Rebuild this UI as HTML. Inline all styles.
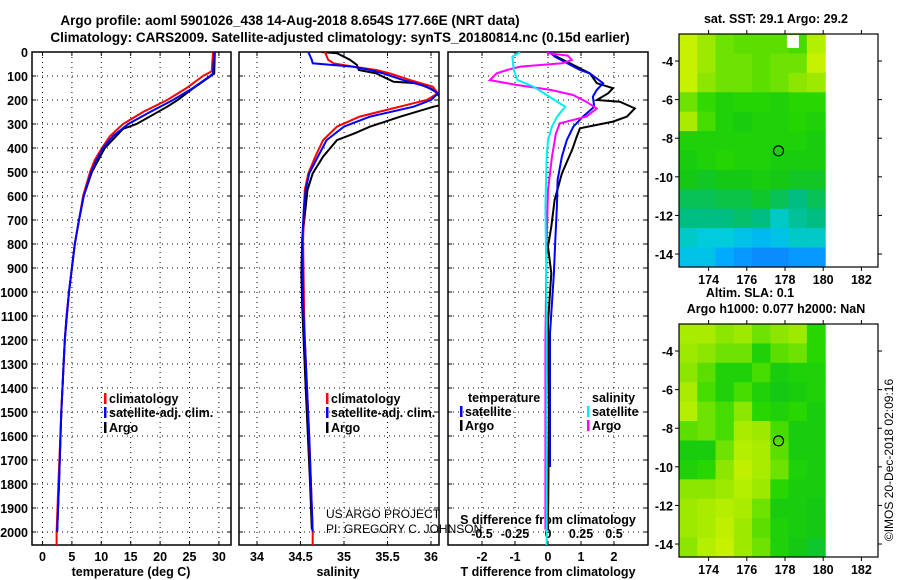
<!DOCTYPE html>
<html><head><meta charset="utf-8">
<style>
html,body{margin:0;padding:0;background:#fff;}
svg{display:block;font-family:"Liberation Sans",sans-serif;}
.b{font-weight:bold;}
</style></head>
<body>
<svg id="fig" width="900" height="580" viewBox="0 0 900 580" xmlns="http://www.w3.org/2000/svg">
<text x="290" y="25" text-anchor="middle" class="b" font-size="13.5">Argo profile: aoml 5901026_438 14-Aug-2018 8.654S 177.66E (NRT data)</text>
<text x="340" y="42" text-anchor="middle" class="b" font-size="13.5">Climatology: CARS2009. Satellite-adjusted climatology: synTS_20180814.nc (0.15d earlier)</text>
<g id="panels"></g>
<g id="maps"></g>
<text transform="translate(893,460) rotate(-90)" text-anchor="middle" font-size="12">©IMOS 20-Dec-2018 02:09:16</text>
</svg>
<script>
// ---------- data ----------
const depthTicks=[0,100,200,300,400,500,600,700,800,900,1000,1100,1200,1300,1400,1500,1600,1700,1800,1900,2000];
const tempTicks=[0,5,10,15,20,25,30];
const salTicks=[34,34.5,35,35.5,36];
const salTickLabels=["34","34.5","35","35.5","36"];
const dTTicks=[-2,-1,0,1,2];
const dSTicks=[-0.5,-0.25,0,0.25,0.5];
const dSTickLabels=["-0.5","-0.25","0","0.25","0.5"];

const tClimDepth=[0,80,100,150,200,250,300,350,400,450,500,600,700,800,900,1000,1100,1200,1500,1800,2000,2054];
const tClimVal=[29.0,28.8,27.3,24.5,21.2,17.1,13.7,11.5,10.1,8.9,8.1,6.9,6.2,5.5,5.0,4.5,4.1,3.8,3.2,2.7,2.4,2.4];
const tSatDepth=[0,90,100,150,200,250,300,350,400,450,500,600,700,800,900,1000,1100,1200,1500,1800,2000];
const tSatVal=[29.2,29.0,28.5,25.6,22.2,18.3,14.6,12.0,10.3,9.2,8.3,7.0,6.2,5.5,5.0,4.5,4.1,3.8,3.2,2.8,2.5];
const tArgoDepth=[0,90,100,150,200,228,300,320,400,500,600,700,800,900,1000,1200,1500,1800,1990];
const tArgoVal=[29.3,29.2,28.6,25.7,23.0,21.2,16.0,13.7,10.6,8.4,7.0,6.2,5.5,5.0,4.5,3.8,3.2,2.8,2.5];

const sClimDepth=[0,33,47,61,75,89,117,144,172,200,228,269,311,367,436,506,575,644,783,1061,1200,1600,2000,2054];
const sClimVal=[34.78,34.82,34.88,35.1,35.37,35.53,35.76,36.02,36.08,35.95,35.64,35.18,34.92,34.76,34.67,34.59,34.55,34.54,34.53,34.54,34.55,34.6,34.64,34.64];
const sSatDepth=[0,33,47,54,61,75,89,117,144,172,200,228,269,311,367,436,506,575,644,783,1061,1200,1600,2000];
const sSatVal=[34.59,34.63,34.64,34.87,35.1,35.3,35.45,35.68,35.95,36.08,36.0,35.8,35.3,35.0,34.8,34.7,34.6,34.56,34.54,34.52,34.53,34.55,34.6,34.64];
const sArgoDepth=[0,5,33,54,75,89,124,130,158,186,214,228,269,311,339,367,436,506,575,644,783,922,1061,1400,1800,1990];
const sArgoVal=[34.74,34.92,35.07,35.15,35.17,35.37,35.57,35.84,36.03,36.1,36.2,36.03,35.65,35.3,35.12,34.92,34.76,34.64,34.58,34.56,34.52,34.51,34.52,34.56,34.61,34.63];

const dTSatDepth=[0,19,75,89,130,158,186,228,269,311,367,436,533,644,783,922,1172,1500,1729];
const dTSatVal=[0.06,0.2,0.97,1.27,1.67,1.48,1.36,1.4,1.06,0.77,0.57,0.42,0.29,0.27,0.22,0.18,0.06,0.06,0.06];
const dTArgoDepth=[0,15,75,89,130,151,172,200,207,235,269,290,318,353,408,506,617,728,811,922,1130,1500,1990];
const dTArgoVal=[0.0,0.2,1.07,1.27,1.48,1.97,1.82,1.48,2.18,2.63,2.39,1.97,0.97,0.87,0.73,0.42,0.2,0.1,0.0,0.1,0.0,0.03,0.0];
const dSSatDepth=[0,19,75,117,144,186,228,269,311,367,436,644,1061,1500,2054];
const dSSatVal=[-0.21,-0.27,-0.26,-0.23,-0.11,0.01,0.13,0.07,0.03,0.0,-0.01,-0.02,-0.01,-0.01,-0.01];
const dSArgoDepth=[0,5,15,33,47,61,75,89,117,137,158,179,207,235,269,297,339,436,575,783,1200,1600,1990];
const dSArgoVal=[0.0,0.0,0.15,0.18,0.11,-0.21,-0.31,-0.39,-0.44,-0.24,0.02,0.19,0.29,0.37,0.29,0.09,0.06,0.03,0.0,-0.01,-0.02,-0.02,-0.02];

const lonTicks=[174,176,178,180,182];
const latTicks=[-4,-6,-8,-10,-12,-14];
const sstGrid=[
[0.85,0.78,0.72,0.70,0.70,0.70,0.68,0.82],
[0.85,0.78,0.72,0.72,0.70,0.72,0.72,0.85],
[0.85,0.75,0.72,0.72,0.70,0.72,0.75,0.78],
[0.72,0.66,0.62,0.64,0.64,0.62,0.65,0.65],
[0.80,0.68,0.62,0.60,0.62,0.62,0.64,0.62],
[0.62,0.62,0.62,0.62,0.62,0.62,0.62,0.60],
[0.60,0.62,0.64,0.62,0.62,0.60,0.60,0.60],
[0.58,0.56,0.58,0.58,0.60,0.58,0.56,0.56],
[0.50,0.50,0.52,0.52,0.55,0.50,0.45,0.50],
[0.45,0.45,0.45,0.48,0.45,0.35,0.42,0.45],
[0.35,0.32,0.32,0.30,0.28,0.30,0.35,0.35],
[0.30,0.30,0.25,0.22,0.20,0.20,0.22,0.22]];
const slaGrid=[
[0.80,0.80,0.75,0.78,0.72,0.75,0.78,0.65],
[0.78,0.75,0.72,0.72,0.62,0.70,0.72,0.65],
[0.75,0.70,0.62,0.62,0.68,0.60,0.62,0.62],
[0.80,0.68,0.62,0.68,0.62,0.58,0.60,0.62],
[0.82,0.72,0.68,0.75,0.65,0.62,0.65,0.60],
[0.70,0.72,0.68,0.80,0.78,0.68,0.60,0.60],
[0.60,0.60,0.72,0.82,0.80,0.70,0.60,0.60],
[0.62,0.65,0.75,0.84,0.80,0.72,0.62,0.60],
[0.75,0.75,0.78,0.82,0.78,0.65,0.60,0.60],
[0.78,0.80,0.82,0.80,0.72,0.60,0.60,0.58],
[0.78,0.80,0.84,0.78,0.70,0.62,0.60,0.58],
[0.75,0.82,0.85,0.78,0.72,0.62,0.58,0.55]];
const argoLon=177.66, argoLat=-8.654;

// ---------- helpers ----------
const NS="http://www.w3.org/2000/svg";
function mk(tag,attrs,parent,txt){const e=document.createElementNS(NS,tag);for(const k in attrs)e.setAttribute(k,attrs[k]);if(txt!==undefined)e.textContent=txt;parent.appendChild(e);return e;}
const TOP=52,BOT=545;
const yD=d=>TOP+d*0.24;
const xT=v=>42.5+v*5.88;
const xS=v=>257+(v-34)*87;
const xDT=v=>548+v*33;
const xDS=v=>548+v*132;
const panels=document.getElementById('panels');

function frame(x0,x1,name,xticks,xf){
  const g=mk('g',{},panels);
  
  
  depthTicks.forEach(d=>{ if(d>0){const l=mk('line',{x1:x0,x2:x1,y1:yD(d),y2:yD(d),stroke:'#000','stroke-width':1,'stroke-dasharray':'1,4'},g);
    
    }
    mk('line',{x1:x0,x2:x0+4,y1:yD(d),y2:yD(d),stroke:'#000'},g);
    mk('line',{x1:x1-4,x2:x1,y1:yD(d),y2:yD(d),stroke:'#000'},g);});
  xticks.forEach(v=>{const x=xf(v);const l=mk('line',{x1:x,x2:x,y1:TOP,y2:BOT,stroke:'#000','stroke-width':1,'stroke-dasharray':'1,4'},g);
    
    
    mk('line',{x1:x,x2:x,y1:TOP,y2:TOP+4,stroke:'#000'},g);mk('line',{x1:x,x2:x,y1:BOT-4,y2:BOT,stroke:'#000'},g);});
  mk('rect',{x:x0,y:TOP,width:x1-x0,height:BOT-TOP,fill:'none',stroke:'#000','stroke-width':1.5},g);
  return g;
}
function series(g,dep,val,xf,color,name,clip){
  const pts=dep.map((d,i)=>xf(val[i]).toFixed(1)+','+yD(d).toFixed(1)).join(' ');
  const p=mk('polyline',{points:pts,fill:'none',stroke:color,'stroke-width':2,'clip-path':'url(#'+clip+')'},g);
  
  
}
function clip(id,x0,x1){const defs=mk('defs',{},panels);const c=mk('clipPath',{id:id},defs);mk('rect',{x:x0,y:TOP,width:x1-x0,height:BOT-TOP},c);}
function label(g,x,y,t,anchor,size,name){const e=mk('text',{x:x,y:y,'text-anchor':anchor,'font-size':size,'font-weight':'bold'},g,t);
  
  return e;}
function legend(g,x,y,color,t,name){const e=mk('g',{},g);
  
  
  mk('rect',{x:x,y:y-10,width:2.5,height:11,fill:color},e);
  mk('text',{x:x+5,y:y,'font-size':12.5,'font-weight':'bold'},e,t);}

// panel 1
clip('c1',32,231);clip('c2',239,439);clip('c3',448,648);
const g1=frame(32,231,'temperature-panel',tempTicks,xT);
depthTicks.forEach(d=>label(g1,28,yD(d)+5,String(d),'end',12.5,'depth-tick-label'));
tempTicks.forEach(v=>label(g1,xT(v),561,String(v),'middle',12.5,'temperature-tick-label'));
label(g1,131,576,'temperature (deg C)','middle',12.5,'temperature-axis-title');
series(g1,tArgoDepth,tArgoVal,xT,'#000','temp-argo-line','c1');
series(g1,tClimDepth,tClimVal,xT,'#f00','temp-climatology-line','c1');
series(g1,tSatDepth,tSatVal,xT,'#00f','temp-satellite-line','c1');
legend(g1,104,403,'#f00','climatology','legend-climatology');
legend(g1,104,417,'#00f','satellite-adj. clim.','legend-satellite');
legend(g1,104,432,'#000','Argo','legend-argo');

// panel 2
const g2=frame(239,439,'salinity-panel',salTicks,xS);
salTicks.forEach((v,i)=>label(g2,xS(v),561,salTickLabels[i],'middle',12.5,'salinity-tick-label'));
label(g2,338,576,'salinity','middle',12.5,'salinity-axis-title');
series(g2,sArgoDepth,sArgoVal,xS,'#000','sal-argo-line','c2');
series(g2,sClimDepth,sClimVal,xS,'#f00','sal-climatology-line','c2');
series(g2,sSatDepth,sSatVal,xS,'#00f','sal-satellite-line','c2');
legend(g2,326,403,'#f00','climatology','legend-climatology');
legend(g2,326,417,'#00f','satellite-adj. clim.','legend-satellite');
legend(g2,326,432,'#000','Argo','legend-argo');
const pr=mk('text',{x:326,y:518,'font-size':12},g2,'US ARGO PROJECT');


const pi=mk('text',{x:326,y:533,'font-size':12},g2,'PI: GREGORY C. JOHNSON');



// panel 3
const g3=frame(448,648,'difference-panel',dTTicks,xDT);
dTTicks.forEach(v=>label(g3,xDT(v),561,String(v),'middle',12.5,'t-diff-tick-label'));
dSTicks.forEach((v,i)=>label(g3,xDS(v),538,dSTickLabels[i],'middle',12.5,'s-diff-tick-label'));
label(g3,548,524,'S difference from climatology','middle',12.5,'s-diff-axis-title');
label(g3,548,576,'T difference from climatology','middle',12.5,'t-diff-axis-title');
series(g3,dTArgoDepth,dTArgoVal,xDT,'#000','t-diff-argo-line','c3');
series(g3,dTSatDepth,dTSatVal,xDT,'#00f','t-diff-satellite-line','c3');
series(g3,dSArgoDepth,dSArgoVal,xDS,'#f0f','s-diff-argo-line','c3');
series(g3,dSSatDepth,dSSatVal,xDS,'#0ee','s-diff-satellite-line','c3');
label(g3,468,402,'temperature','start',12.5,'legend-temperature-header');
legend(g3,460,416,'#00f','satellite','legend-t-satellite');
legend(g3,460,430,'#000','Argo','legend-t-argo');
label(g3,592,402,'salinity','start',12.5,'legend-salinity-header');
legend(g3,587,416,'#0ee','satellite','legend-s-satellite');
legend(g3,587,430,'#f0f','Argo','legend-s-argo');

// maps
const maps=document.getElementById('maps');
const stops=[[0.15,[20,110,255]],[0.25,[0,170,255]],[0.32,[0,204,220]],[0.45,[0,190,130]],[0.58,[20,200,20]],[0.65,[40,215,0]],[0.75,[140,230,0]],[0.88,[215,245,0]],[1,[255,200,0]]];
function cmap(t){for(let i=1;i<stops.length;i++){if(t<=stops[i][0]){const a=stops[i-1],b=stops[i];const f=Math.max(0,(t-a[0])/(b[0]-a[0]));return 'rgb('+a[1].map((c,j)=>Math.round(c+(b[1][j]-c)*f)).join(',')+')';}}return 'rgb(255,200,0)';}
const MX0=679,MX1=878;
const xL=lon=>679+(lon-172.45)*19.1;
function map(top,grid,name,title1,title2){
  const bot=top+233;
  const yL=lat=>top+(lat+2.6)*(-19.3);
  const g=mk('g',{},maps);
  
  
  const rows=grid.length,cols=grid[0].length;
  const dx0=xL(172.45),dx1=xL(180.1);
  const cw=(dx1-dx0)/cols,ch=(bot-top)/rows;
  grid.forEach((r,i)=>r.forEach((v,j)=>{const c=mk('rect',{x:(dx0+j*cw).toFixed(2),y:(top+i*ch).toFixed(2),width:(cw+0.6).toFixed(2),height:(ch+0.6).toFixed(2),fill:cmap(v)},g);
    
    }));
  mk('rect',{x:MX0,y:top,width:MX1-MX0,height:bot-top,fill:'none',stroke:'#000','stroke-width':1.2},g);
  lonTicks.forEach(l=>{const x=xL(l);mk('line',{x1:x,x2:x,y1:top-4,y2:top,stroke:'#000'},g);mk('line',{x1:x,x2:x,y1:bot,y2:bot+4,stroke:'#000'},g);
    label(g,x,bot+17,String(l),'middle',12.5,'lon-tick-label');});
  latTicks.forEach(l=>{const y=yL(l);mk('line',{x1:MX0-4,x2:MX0,y1:y,y2:y,stroke:'#000'},g);mk('line',{x1:MX1,x2:MX1+4,y1:y,y2:y,stroke:'#000'},g);
    label(g,673,y+5,String(l),'end',12.5,'lat-tick-label');});
  const c=mk('circle',{cx:xL(argoLon),cy:yL(argoLat),r:5,fill:'none',stroke:'#000','stroke-width':1.2},g);
  
  
  if(title2){label(g,750,top-27,title1,'middle',12.5,'map-title');label(g,776,top-11,title2,'middle',12.5,'map-subtitle');}
  else label(g,776,top-11,title1,'middle',12.5,'map-title');
  return g;
}
const m1=map(34,sstGrid,'sst-map','sat. SST: 29.1 Argo: 29.2');
const w=mk('rect',{x:xL(178.1),y:35,width:12,height:13,fill:'#fff'},m1);


map(324,slaGrid,'sla-map','Altim. SLA: 0.1','Argo h1000: 0.077 h2000: NaN');
</script>
</body></html>
